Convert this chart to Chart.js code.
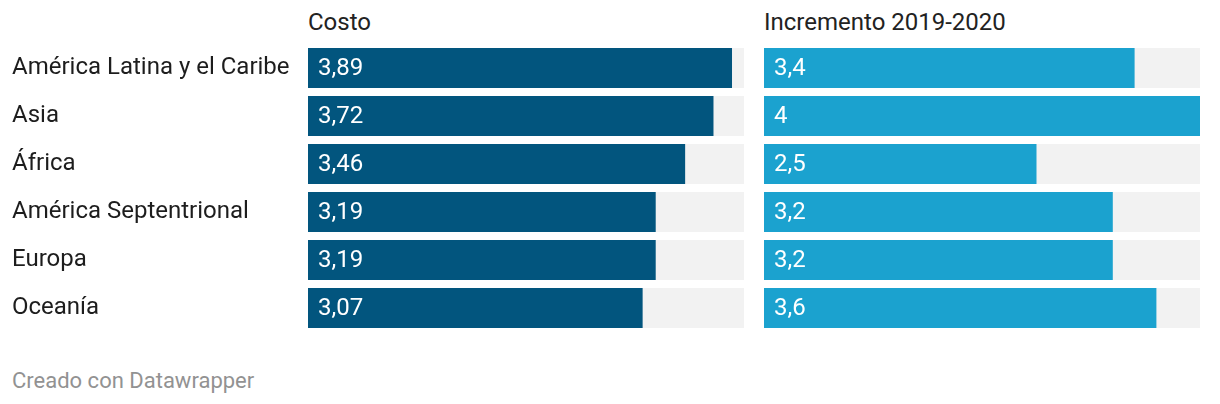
<!DOCTYPE html>
<html>
<head>
<meta charset="utf-8">
<script src="https://cdn.jsdelivr.net/npm/chart.js@4"></script>
<style>
  html, body { margin: 0; padding: 0; background: #fff; }
  body { width: 1220px; height: 404px; position: relative; font-family: Roboto, sans-serif; overflow: hidden; }
  .head { position: absolute; top: 8px; font-size: 24px; line-height: 28px; color: #222; }
  .foot { position: absolute; left: 12px; top: 367px; font-size: 22px; line-height: 28px; color: #929292; }
  .box { position: absolute; top: 44px; height: 288px; }
</style>
</head>
<body>
<div class="head" style="left:308px">Costo</div>
<div class="head" style="left:764px">Incremento 2019-2020</div>
<div class="box" style="left:0;width:744px"><canvas id="costo"></canvas></div>
<div class="box" style="left:764px;width:436px"><canvas id="incremento"></canvas></div>
<div class="foot">Creado con Datawrapper</div>
<script>
const regiones = ["América Latina y el Caribe", "Asia", "África", "América Septentrional", "Europa", "Oceanía"];
const costo = [3.89, 3.72, 3.46, 3.19, 3.19, 3.07];
const incremento = [3.4, 4, 2.5, 3.2, 3.2, 3.6];
const escalaMax = 4;

Chart.defaults.font.family = "Roboto";
Chart.defaults.font.size = 24;
Chart.defaults.animation = false;

// etiquetas de valor dentro de la barra
const etiquetas = {
  id: "etiquetas",
  afterDatasetsDraw(chart) {
    const ctx = chart.ctx;
    const meta = chart.getDatasetMeta(0);
    ctx.save();
    ctx.fillStyle = "#fff";
    ctx.font = "24px Roboto";
    ctx.textBaseline = "middle";
    meta.data.forEach((bar, i) => {
      const v = chart.data.datasets[0].data[i];
      ctx.fillText(String(v).replace(".", ","), bar.base + 10, bar.y + 1);
    });
    ctx.restore();
  }
};

function crearGrafico(id, valores, color, conEtiquetas) {
  const ctx = document.getElementById(id).getContext("2d");
  return new Chart(ctx, {
    type: "bar",
    data: {
      labels: regiones,
      datasets: [
        { data: valores, backgroundColor: color },
        { data: regiones.map(() => escalaMax), backgroundColor: "#f2f2f2" }
      ]
    },
    options: {
      indexAxis: "y",
      responsive: true,
      maintainAspectRatio: false,
      layout: { padding: { left: conEtiquetas ? 12 : 0, right: 0, top: 0, bottom: 0 } },
      datasets: { bar: { grouped: false, categoryPercentage: 1, barPercentage: 40 / 48 } },
      plugins: { legend: { display: false }, tooltip: { enabled: false } },
      scales: {
        x: { display: false, min: 0, max: escalaMax },
        y: {
          display: conEtiquetas,
          grid: { display: false },
          border: { display: false },
          ticks: { crossAlign: "far", color: "#1d1d1d", font: { size: 24 } },
          afterFit: s => {
            if (!conEtiquetas) return;
            s.width = 296;
            s.paddingTop = 0;
            s.paddingBottom = 0;
          }
        }
      }
    },
    plugins: [etiquetas]
  });
}

crearGrafico("costo", costo, "#02557e", true);
crearGrafico("incremento", incremento, "#1ba2cf", false);
</script>
</body>
</html>
